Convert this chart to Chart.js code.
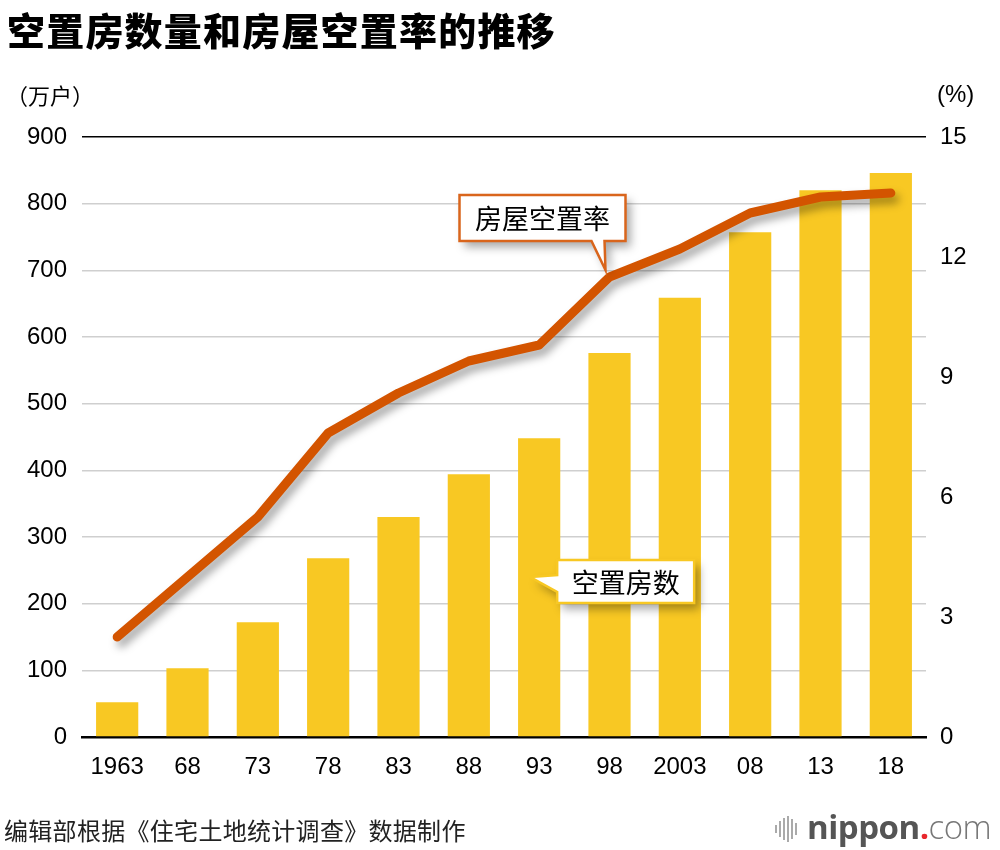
<!DOCTYPE html>
<html>
<head>
<meta charset="utf-8">
<script src="https://cdn.jsdelivr.net/npm/chart.js@4.4.1/dist/chart.umd.min.js"></script>
<style>
  html, body { margin: 0; padding: 0; background: #fff; }
  #wrap { position: relative; width: 1000px; height: 850px; overflow: hidden; }
  #chart { position: absolute; left: 0; top: 0; }
  .txt { position: absolute; white-space: nowrap; color: #000; }
  #title { left: 7px; top: 1px; font: 900 38px "Noto Sans CJK SC", sans-serif; letter-spacing: 1.2px; }
  #unitL { left: 6px; top: 78px; font: 22px "Noto Sans CJK SC", sans-serif; }
  #unitR { left: 937px; top: 80px; font: 24px "Liberation Sans", Arial, sans-serif; }
  #source { left: 4px; top: 812px; font: 24px "Noto Sans CJK SC", sans-serif; color: #222; letter-spacing: 0.3px; }
  #logo { position: absolute; left: 773px; top: 808px; height: 40px; width: 227px; }
  #logo .bars { position: absolute; left: 0; top: 0; width: 30px; height: 40px; }
  #logo .bars span { position: absolute; width: 2px; background: #aaa; }
  #logo .word { position: absolute; left: 34px; top: -4px; font: 700 33px "Open Sans", sans-serif; color: #555; letter-spacing: -0.5px; }
  #logo .word .dot { color: #e8262c; }
  #logo .word .com { font-weight: 300; color: #777; }
</style>
</head>
<body>
<div id="wrap">
  <canvas id="chart" width="1000" height="850"></canvas>
  <div class="txt" id="title">空置房数量和房屋空置率的推移</div>
  <div class="txt" id="unitL">（万户）</div>
  <div class="txt" id="unitR">(%)</div>
  <div class="txt" id="source">编辑部根据《住宅土地统计调查》数据制作</div>
  <div id="logo">
    <div class="bars">
      <span style="left:2px;top:17px;height:8px"></span>
      <span style="left:6px;top:13px;height:16px"></span>
      <span style="left:10px;top:10px;height:22px"></span>
      <span style="left:14px;top:8px;height:26px"></span>
      <span style="left:18px;top:11px;height:20px"></span>
      <span style="left:22px;top:15px;height:12px"></span>
    </div>
    <div class="word">nippon<span class="dot">.</span><span class="com">com</span></div>
  </div>
</div>
<script>
// 调查年份
const years = ['1963', '68', '73', '78', '83', '88', '93', '98', '2003', '08', '13', '18'];
// 空置房数（万户）
const vacantHouses = [52, 103, 172, 268, 330, 394, 448, 576, 659, 757, 820, 846];
// 房屋空置率（%）
const vacancyRate = [2.5, 4.0, 5.5, 7.6, 8.6, 9.4, 9.8, 11.5, 12.2, 13.1, 13.5, 13.6];
// 刻度
const leftTicks = [0, 100, 200, 300, 400, 500, 600, 700, 800, 900];
const rightTicks = [0, 3, 6, 9, 12, 15];

const BAR_COLOR = '#F8C823';
const LINE_COLOR = '#D35400';
const NUM_FONT = { family: '"Liberation Sans", Arial, sans-serif', size: 24 };

// 折线阴影
const lineShadow = {
    id: 'lineShadow',
    beforeDatasetDraw(chart, args) {
        if (args.meta.type !== 'line') return;
        const ctx = chart.ctx;
        ctx.save();
        ctx.shadowColor = 'rgba(0,0,0,0.35)';
        ctx.shadowBlur = 8;
        ctx.shadowOffsetX = 4;
        ctx.shadowOffsetY = 6;
    },
    afterDatasetDraw(chart, args) {
        if (args.meta.type !== 'line') return;
        chart.ctx.restore();
    }
};

function drawCallout(ctx, pts, box, text, border) {
    ctx.save();
    ctx.beginPath();
    pts.forEach((p, i) => i ? ctx.lineTo(p[0], p[1]) : ctx.moveTo(p[0], p[1]));
    ctx.closePath();
    ctx.shadowColor = 'rgba(0,0,0,0.35)';
    ctx.shadowBlur = 10;
    ctx.shadowOffsetX = 5;
    ctx.shadowOffsetY = 6;
    ctx.fillStyle = '#fff';
    ctx.fill();
    ctx.shadowColor = 'transparent';
    ctx.lineWidth = 2.5;
    ctx.strokeStyle = border;
    ctx.lineJoin = 'miter';
    ctx.stroke();
    ctx.fillStyle = '#000';
    ctx.font = '27px "Noto Sans CJK SC", sans-serif';
    ctx.textAlign = 'center';
    ctx.textBaseline = 'middle';
    ctx.fillText(text, (box.l + box.r) / 2, (box.t + box.b) / 2 + 1);
    ctx.restore();
}

// 标注框
const callouts = {
    id: 'callouts',
    afterDatasetsDraw(chart) {
        const ctx = chart.ctx;
        const x = chart.scales.x, yL = chart.scales.y, yR = chart.scales.y1;

        // 房屋空置率
        let tx = x.getPixelForValue(7) - 4, ty = yR.getPixelForValue(vacancyRate[7]) - 7;
        let b = { l: tx - 146, r: tx + 20, t: ty - 75, b: ty - 29 };
        drawCallout(ctx, [[b.l, b.t], [b.r, b.t], [b.r, b.b], [tx - 1, b.b], [tx, ty], [tx - 14, b.b], [b.l, b.b]],
            b, '房屋空置率', '#D9651C');

        // 空置房数
        tx = x.getPixelForValue(6) - 9; ty = yL.getPixelForValue(240);
        b = { l: tx + 27, r: tx + 164, t: ty - 17, b: ty + 26 };
        drawCallout(ctx, [[b.l, b.t], [b.r, b.t], [b.r, b.b], [b.l, b.b], [b.l, ty + 15], [tx, ty], [b.l, ty - 2]],
            b, '空置房数', BAR_COLOR);
    }
};

new Chart(document.getElementById('chart').getContext('2d'), {
    type: 'bar',
    data: {
        labels: years,
        datasets: [
            {
                type: 'line',
                label: '房屋空置率',
                data: vacancyRate,
                yAxisID: 'y1',
                borderColor: LINE_COLOR,
                borderWidth: 9,
                borderCapStyle: 'round',
                borderJoinStyle: 'round',
                pointRadius: 0,
                tension: 0,
                order: 0
            },
            {
                type: 'bar',
                label: '空置房数',
                data: vacantHouses,
                yAxisID: 'y',
                backgroundColor: BAR_COLOR,
                barPercentage: 0.6,
                categoryPercentage: 1,
                order: 1
            }
        ]
    },
    options: {
        responsive: false,
        animation: false,
        layout: { padding: { top: 137, left: 0, right: 0, bottom: 0 } },
        plugins: { legend: { display: false }, tooltip: { enabled: false } },
        scales: {
            x: {
                grid: { display: false },
                border: { display: true, color: '#000', width: 2.5 },
                ticks: { color: '#000', font: NUM_FONT, padding: 8, maxRotation: 0 },
                afterFit: s => { s.height = 113; }
            },
            y: {
                position: 'left',
                min: 0, max: 900,
                afterBuildTicks: s => { s.ticks = leftTicks.map(v => ({ value: v })); },
                grid: {
                    drawTicks: false,
                    color: c => (c.tick.value === 900 || c.tick.value === 0) ? '#000' : '#cfcfcf',
                    lineWidth: 1.5
                },
                border: { display: false },
                ticks: { color: '#000', font: NUM_FONT, padding: 15 },
                afterFit: s => { s.width = 82; }
            },
            y1: {
                position: 'right',
                min: 0, max: 15,
                afterBuildTicks: s => { s.ticks = rightTicks.map(v => ({ value: v })); },
                grid: { display: false, drawTicks: false },
                border: { display: false },
                ticks: { color: '#000', font: NUM_FONT, padding: 14 },
                afterFit: s => { s.width = 74; }
            }
        }
    },
    plugins: [lineShadow, callouts]
});
</script>
</body>
</html>
